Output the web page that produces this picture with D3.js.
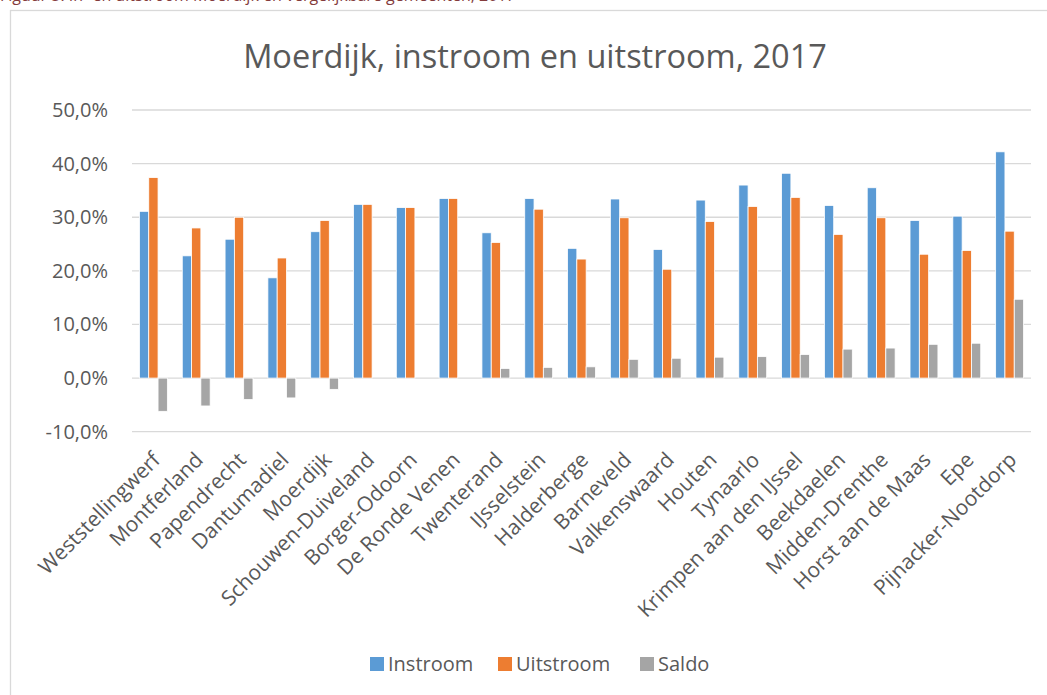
<!DOCTYPE html>
<html>
<head>
<meta charset="utf-8">
<script src="https://cdn.jsdelivr.net/npm/d3@7"></script>
<style>
  html, body { margin: 0; padding: 0; background: #fff; overflow: hidden; }
  text { font-family: "Open Sans", "Noto Sans", sans-serif; }
</style>
</head>
<body>
<svg id="chart"></svg>
<script>
// data
const gemeenten = ["Weststellingwerf", "Montferland", "Papendrecht", "Dantumadiel", "Moerdijk",
    "Schouwen-Duiveland", "Borger-Odoorn", "De Ronde Venen", "Twenterand", "IJsselstein",
    "Halderberge", "Barneveld", "Valkenswaard", "Houten", "Tynaarlo", "Krimpen aan den IJssel",
    "Beekdaelen", "Midden-Drenthe", "Horst aan de Maas", "Epe", "Pijnacker-Nootdorp"];
const instroom = [31.1, 22.8, 25.9, 18.7, 27.3, 32.4, 31.8, 33.5, 27.1, 33.5, 24.2,
    33.4, 24.0, 33.2, 36.0, 38.2, 32.2, 35.5, 29.4, 30.2, 42.2];
const uitstroom = [37.4, 28.0, 30.0, 22.4, 29.4, 32.4, 31.8, 33.5, 25.3, 31.5, 22.2,
    29.9, 20.3, 29.2, 32.0, 33.7, 26.8, 29.9, 23.1, 23.8, 27.4];
const saldo = [-6.2, -5.2, -4.0, -3.7, -2.1, 0.0, 0.0, 0.0, 1.8, 2.0, 2.1,
    3.5, 3.7, 3.9, 4.0, 4.4, 5.4, 5.6, 6.3, 6.5, 14.7];
const series = ["Instroom", "Uitstroom", "Saldo"];
const yTicks = [-10, 0, 10, 20, 30, 40, 50];

(() => {
    const width = 1047;
    const height = 695;
    const colors = ["#5b9bd5", "#ed7d31", "#a5a5a5"];
    const textColor = "#595959";

    // dutch number format: comma decimal, plain hyphen for negatives
    const nl = d3.formatLocale({ decimal: ",", thousands: ".", grouping: [3], currency: ["€", ""], minus: "-" });
    const pct = d => nl.format(".1f")(d) + "%";

    const svg = d3.select("#chart")
        .attr("width", width)
        .attr("height", height);

    // caption of the document, cut off at the top like in the source
    svg.append("text")
        .attr("x", 0)
        .attr("y", 1)
        .attr("font-size", "16px")
        .attr("fill", "#843c3c")
        .text("Figuur 5: In- en uitstroom Moerdijk en vergelijkbare gemeenten, 2017");

    // chart frame
    svg.append("rect")
        .attr("x", 10.5)
        .attr("y", 10.5)
        .attr("width", 1060)
        .attr("height", 720)
        .attr("fill", "#fff")
        .attr("stroke", "#d9d9d9")
        .attr("stroke-width", 1.3);

    svg.append("text")
        .attr("x", 535)
        .attr("y", 68)
        .attr("text-anchor", "middle")
        .attr("font-size", "32.5px")
        .attr("fill", textColor)
        .text("Moerdijk, instroom en uitstroom, 2017");

    const x = d3.scaleBand()
        .domain(gemeenten)
        .range([132, 1031])
        .paddingInner(0)
        .paddingOuter(0);

    const y = d3.scaleLinear()
        .domain([-10, 50])
        .range([431.7, 110]);

    // gridlines
    svg.append("g")
        .selectAll("line")
        .data(yTicks)
        .enter()
        .append("line")
        .attr("x1", 132)
        .attr("x2", 1031)
        .attr("y1", d => y(d))
        .attr("y2", d => y(d))
        .attr("stroke", "#d9d9d9")
        .attr("stroke-width", 1.3);

    // y axis labels
    const yAxis = svg.append("g")
        .attr("transform", "translate(116,0)")
        .call(d3.axisLeft(y)
            .tickValues(yTicks)
            .tickSize(0)
            .tickPadding(8)
            .tickFormat(pct));
    yAxis.select(".domain").remove();
    yAxis.selectAll("text")
        .attr("font-size", "20px")
        .attr("font-family", "'Open Sans', sans-serif")
        .attr("fill", textColor);

    // bars
    const rows = gemeenten.map((g, i) => ({ g, vals: [instroom[i], uitstroom[i], saldo[i]] }));
    const barW = 9.3;
    const inner = d3.scaleBand()
        .domain(series)
        .range([0, barW * 3]);
    const offset = (x.bandwidth() - barW * 3) / 2;

    svg.append("g")
        .selectAll("g")
        .data(rows)
        .enter()
        .append("g")
        .attr("transform", d => `translate(${x(d.g) + offset},0)`)
        .selectAll("rect")
        .data(d => d.vals.map((v, k) => ({ key: series[k], v, k })))
        .enter()
        .append("rect")
        .attr("x", d => inner(d.key))
        .attr("width", inner.bandwidth())
        .attr("y", d => y(Math.max(0, d.v)))
        .attr("height", d => Math.abs(y(d.v) - y(0)))
        .attr("fill", d => colors[d.k])
        .attr("stroke", "#fff")
        .attr("stroke-width", 0.8);

    // category labels, rotated
    svg.append("g")
        .selectAll("text")
        .data(gemeenten)
        .enter()
        .append("text")
        .attr("transform", d => `translate(${x(d) + x.bandwidth() / 2 + 3},${456}) rotate(-45)`)
        .attr("text-anchor", "end")
        .attr("dy", "0.35em")
        .attr("font-size", "21px")
        .attr("fill", textColor)
        .text(d => d);

    // legend
    const legendX = [370, 498, 640];
    const legend = svg.append("g");
    legend.selectAll("rect")
        .data(series)
        .enter()
        .append("rect")
        .attr("x", (d, i) => legendX[i])
        .attr("y", 657)
        .attr("width", 14)
        .attr("height", 14)
        .attr("fill", (d, i) => colors[i]);
    legend.selectAll("text")
        .data(series)
        .enter()
        .append("text")
        .attr("x", (d, i) => legendX[i] + 18)
        .attr("y", 664)
        .attr("dy", "0.35em")
        .attr("font-size", "20px")
        .attr("fill", textColor)
        .text(d => d);
})();
</script>
</body>
</html>
